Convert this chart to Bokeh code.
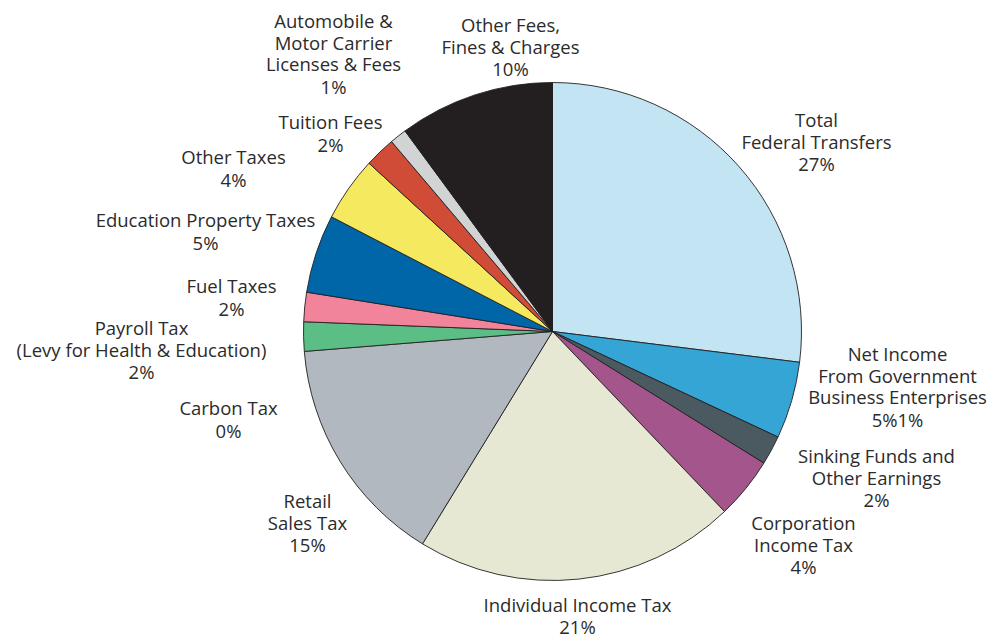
from bokeh.plotting import figure
from bokeh.models import ColumnDataSource, Range1d
from bokeh.embed import file_html
from bokeh.resources import INLINE
from bokeh.core.properties import value
import numpy as np

# ---- data (clockwise from 12 o'clock) ----
categories = [
    "Total\nFederal Transfers",
    "Net Income\nFrom Government\nBusiness Enterprises",
    "Sinking Funds and\nOther Earnings",
    "Corporation\nIncome Tax",
    "Individual Income Tax",
    "Retail\nSales Tax",
    "Carbon Tax",
    "Payroll Tax\n(Levy for Health & Education)",
    "Fuel Taxes",
    "Education Property Taxes",
    "Other Taxes",
    "Tuition Fees",
    "Automobile &\nMotor Carrier\nLicenses & Fees",
    "Other Fees,\nFines & Charges",
]
shares = [27.0, 5.0, 1.9, 4.0, 20.9, 15.0, 0.0, 1.9, 1.9, 5.1, 4.2, 2.0, 1.1, 10.1]
pct_labels = ["27%", "5%1%", "2%", "4%", "21%", "15%", "0%", "2%", "2%", "5%", "4%", "2%", "1%", "10%"]
colors = ["#c3e4f2", "#35a5d6", "#4b5961", "#a4558b", "#e6e8d3", "#b1b8c0", "#ffffff",
          "#5bbf85", "#f1849a", "#0066a7", "#f5e95f", "#d04c36", "#d1d3d4", "#231f20"]

# ---- layout (page pixel coords of label's first line centre) ----
label_pos = [
    (816, 119), (897, 353), (876, 455), (803, 522), (577, 604), (307, 500), (228, 407),
    (141, 327), (231, 285), (205, 219), (233, 156), (330, 121), (333, 20), (510, 24),
]
line_gaps = [21.5, 21.5, 21.5, 21.5, 20.5, 21.5, 21.5, 21.5, 21.5, 21.5, 21.5, 21.5, 21.5, 21.5]
W, H = 991, 639
CX, CY, R = 552, 331, 249


def dx(sx):
    return sx


def dy(sy):
    return H - sy


p = figure(width=W, height=H, x_range=Range1d(0, W), y_range=Range1d(0, H),
           output_backend="svg", toolbar_location=None, min_border=0,
           x_axis_type=None, y_axis_type=None)
p.grid.visible = False
p.outline_line_color = None
p.background_fill_color = "white"

vals = np.array(shares, dtype=float)
frac = vals / vals.sum()
cum = np.concatenate([[0.0], np.cumsum(frac)])
start = np.pi / 2 - 2 * np.pi * cum[:-1]
end = np.pi / 2 - 2 * np.pi * cum[1:]
mask = vals > 0
src = ColumnDataSource(dict(
    start=start[mask], end=end[mask],
    color=[c for c, m in zip(colors, mask) if m],
    name=[c for c, m in zip(categories, mask) if m],
))
p.wedge(x=dx(CX), y=dy(CY), radius=R, start_angle="start", end_angle="end",
        direction="clock", fill_color="color", line_color="#231f20",
        line_width=0.9, source=src)

xs, ys, texts = [], [], []
for name, pct, (sx, sy), gap in zip(categories, pct_labels, label_pos, line_gaps):
    lines = name.split("\n") + [pct]
    for i, t in enumerate(lines):
        xs.append(dx(sx))
        ys.append(dy(sy + i * gap + (1.0 if i == len(lines) - 1 else 0)))
        texts.append(t)
p.text(x=xs, y=ys, text=texts, text_align="center", text_baseline="middle",
       text_font=value("Open Sans"), text_font_size="18.5px", text_color="#2b2b2b")

open("out.html", "w").write(file_html(p, INLINE))
